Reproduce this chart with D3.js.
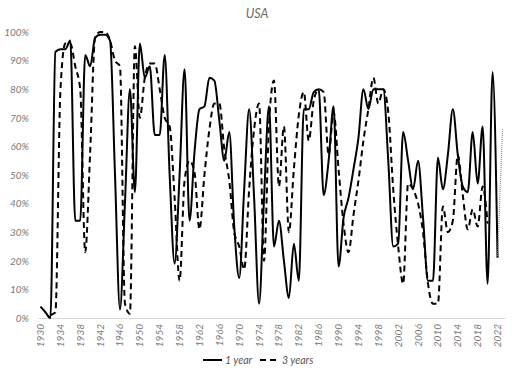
<!DOCTYPE html>
<html><head><meta charset="utf-8">
<script src="https://cdn.jsdelivr.net/npm/d3@7"></script>
<style>
html,body{margin:0;padding:0;background:#fff;}
text{font-family:Lato,"Open Sans",sans-serif;font-style:italic;}
</style></head>
<body><svg id="chart" width="514" height="373"></svg>
<script>
const title = "USA";
const categories = d3.range(1930, 2024); // 1930..2023
const tickYears = d3.range(1930, 2023, 4);
const yTicks = [0,0.1,0.2,0.3,0.4,0.5,0.6,0.7,0.8,0.9,1.0];

const oneYearStart = 1930;
const oneYear = [4,2,0,93,94,94,97,34,34,92,88,98,99,99,97,50,3,40,80,44,
  96,84,88,64,64,92,50,19,50,87,34,58,73,74,84,83,69,55,65,32,
  14,45,73,42,5,42,74,25,34,20,7,26,13,73,73,79,80,43,55,74,
  18,35,42,52,63,80,73,80,80,80,55,25,26,65,55,45,55,35,13,13,
  56,45,57,73,57,46,44,65,47,67,12,86,21];

const threeYearStart = 1932;
const threeYears = [1,2,79,96,96,88,80,23,58,98,100,100,97,90,88,5,1.5,95,70,84,
  89,89,80,70,67,42,13,48,55,51,31,50,66,75,75,59,48,30,25,17,
  45,66,75,20,68,83,46,67,30,52,71,79,62,76,80,79,57,72,52,33,
  23,36,48,62,73,84,75,80,72,45,25,12,47,45,40,30,12,5,5,39,
  30,34,57,43,31,38,32,46,33];

const outlookYears = [2022, 2023];
const outlook = [21, 66];

const seriesNames = ["1 year", "3 years"];

const svg = d3.select("#chart");
const x = d3.scaleBand().domain(categories).range([38, 505]).padding(0);
const xc = yr => x(yr) + x.bandwidth()/2;
const y = d3.scaleLinear().domain([0, 1]).range([318, 32]);

// title
svg.append("text").attr("x", 257).attr("y", 18).attr("text-anchor","middle")
  .attr("font-size", 12.5).attr("fill", "#6b6b6b").text(title);

// y axis labels
const ya = svg.append("g").attr("transform","translate(38,0)")
  .call(d3.axisLeft(y).tickValues(yTicks).tickFormat(d3.format(".0%")).tickSize(0).tickPadding(9));
ya.select(".domain").remove();
ya.selectAll("text").attr("font-size", 10).attr("fill", "#7a7a7a")
  .style("font-family","Lato, sans-serif").style("font-style","italic");

// x axis
const xa = svg.append("g").attr("transform","translate(0,318)")
  .call(d3.axisBottom(x).tickValues(tickYears).tickSize(0));
xa.select(".domain").attr("stroke", "#d9d9d9").attr("stroke-width", 1);
xa.selectAll("text").attr("transform","rotate(-90)").attr("x", -6).attr("y", 0)
  .attr("dy","0.35em").style("text-anchor","end")
  .attr("font-size", 10).attr("fill", "#7a7a7a")
  .style("font-family","Lato, sans-serif").style("font-style","italic");

const curve = d3.curveMonotoneX;
const line = d3.line().x(d => xc(d[0])).y(d => y(d[1]/100)).curve(curve);

const d1 = oneYear.map((v,i) => [oneYearStart + i, v]);
const d3y = threeYears.map((v,i) => [threeYearStart + i, v]);
const dOut = outlook.map((v,i) => [outlookYears[i], v]);

svg.append("path").datum(d3y).attr("d", line).attr("fill","none")
  .attr("stroke","#000").attr("stroke-width",2).attr("stroke-dasharray","6,4");
svg.append("path").datum(d1).attr("d", line).attr("fill","none")
  .attr("stroke","#000").attr("stroke-width",2);
svg.append("path").datum(dOut).attr("d", d3.line().x(d => xc(d[0])).y(d => y(d[1]/100)))
  .attr("fill","none").attr("stroke","#8c8c8c").attr("stroke-width",1.2).attr("stroke-dasharray","1,1");

// legend
const lg = svg.append("g");
lg.append("line").attr("x1",203).attr("x2",222).attr("y1",360).attr("y2",360)
  .attr("stroke","#000").attr("stroke-width",2);
lg.append("text").attr("x",225).attr("y",363.5).attr("font-size",10.5).attr("fill","#595959").text(seriesNames[0]);
lg.append("line").attr("x1",260).attr("x2",279).attr("y1",360).attr("y2",360)
  .attr("stroke","#000").attr("stroke-width",2).attr("stroke-dasharray","6,4");
lg.append("text").attr("x",282).attr("y",363.5).attr("font-size",10.5).attr("fill","#595959").text(seriesNames[1]);
</script></body></html>
